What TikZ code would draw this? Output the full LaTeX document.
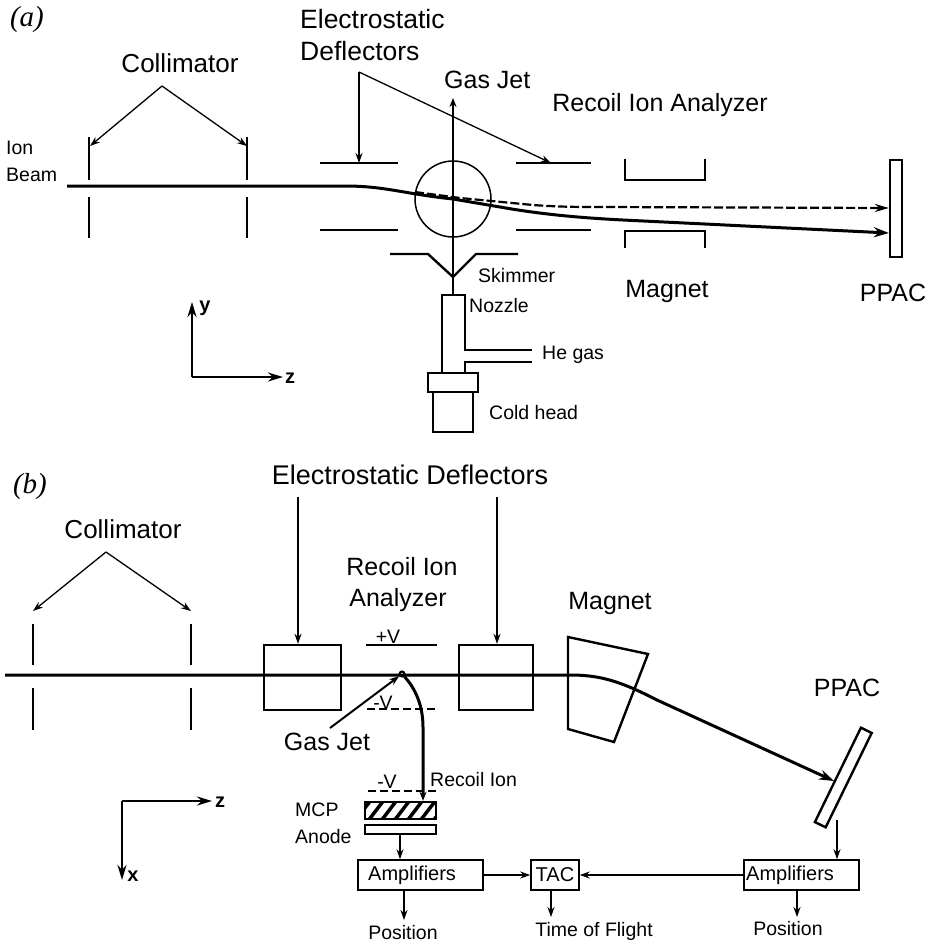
\documentclass[tikz,border=0pt]{standalone}
\usepackage{fontspec}
\setmainfont{Liberation Sans}
\newfontfamily\panelfont{Liberation Serif}
\usetikzlibrary{arrows.meta, positioning, calc}

\begin{document}
\begin{tikzpicture}[
    x=1pt, y=-1pt,
    biglabel/.style={inner sep=0pt, font=\fontsize{25}{30}\selectfont},
    widelabel/.style={inner sep=0pt, font=\fontsize{26}{30}\selectfont},
    smalllabel/.style={inner sep=0pt, font=\fontsize{19.5}{23}\selectfont},
    panel/.style={inner sep=0pt, font=\fontsize{29}{32}\panelfont\itshape},
    box/.style={rectangle, draw=black, inner sep=0pt},
    ampbox/.style={box, line width=1.6pt, minimum height=30pt, font=\fontsize{20}{24}\selectfont},
    deflbox/.style={box, line width=2.4pt, minimum height=65pt},
    plate/.style={line width=2.2pt},
    slit/.style={line width=2.6pt},
    arrow/.style={-{Stealth[length=10pt, width=7pt]}, line width=1.3pt},
    beamarrow/.style={-{Stealth[length=15pt, width=10pt]}, line width=3pt},
    axis/.style={-{Stealth[length=15pt, width=9pt]}, line width=2.4pt}
]
    \useasboundingbox (0,0) rectangle (925,943);

    \node[panel] (panela) at (27,20) {(a)};
    \node[widelabel] (colla) at (180,63) {Collimator};
    \node[smalllabel, anchor=west] (ion) at (6,148) {Ion};
    \node[smalllabel, anchor=west] (ionbeam) at (6,175) {Beam};
    \node[widelabel, font=\fontsize{26.5}{30}\selectfont, anchor=west] (defla) at (300,19) {Electrostatic};
    \node[widelabel, font=\fontsize{26.5}{30}\selectfont, anchor=west] (deflb) at (300,51) {Deflectors};
    \node[biglabel, anchor=west] (jeta) at (444,80) {Gas Jet};
    \node[biglabel] (riaa) at (660,105) {Recoil Ion Analyzer};
    \node[biglabel] (magneta) at (667,291) {Magnet};
    \node[biglabel] (ppaca) at (893,293) {PPAC};
    \node[smalllabel, anchor=west] (skimmer) at (478,276) {Skimmer};
    \node[smalllabel, anchor=west] (nozzle) at (469,306) {Nozzle};
    \node[smalllabel, anchor=west] (hegas) at (542,355) {He gas};
    \node[smalllabel, anchor=west] (cold) at (489,413) {Cold head};

    \coordinate (apexa) at (162,86);
    \coordinate (slitaa) at (90,146);
    \coordinate (slitab) at (247,146);
    \draw[arrow] (apexa) -- (slitaa);
    \draw[arrow] (apexa) -- (slitab);
    \draw[slit] (89,137) -- (89,180) (89,197) -- (89,238);
    \draw[slit] (247,137) -- (247,180) (247,197) -- (247,238);

    \coordinate (apexb) at (359,72);
    \draw[arrow] (apexb) -- (359,163);
    \draw[arrow] (apexb) -- (551,163);
    \draw[plate] (320,163) -- (398,163) (320,230) -- (398,230);
    \draw[plate] (516,163) -- (591,163) (516,230) -- (591,230);
    \draw[line width=1.5pt] (453,199) circle (38);

    \draw[plate] (625,159) -- (625,180) -- (705,180) -- (705,159);
    \draw[plate] (625,248) -- (625,231) -- (705,231) -- (705,248);
    \node[box, line width=2.2pt, minimum width=12pt, minimum height=97pt] (ppacabox) at (896,208.5) {};

    \coordinate (beamstart) at (67,186);
    \draw[beamarrow] (beamstart) -- (345,186) .. controls (385,186) and (405,194) .. (453,199)
        -- (500,207) .. controls (545,215) and (585,218) .. (623,220) -- (ppacabox.west |- 0,233);
    \draw[-{Stealth[length=14pt, width=8pt]}, line width=2.2pt, dashed, dash pattern=on 9pt off 3pt]
        (415,192) -- (460,198) -- (533,205) .. controls (560,207) and (580,207) .. (600,207) -- (ppacabox.west |- 0,208);

    \coordinate (jettop) at (453,98);
    \coordinate (nozzletop) at (453,295);
    \draw[-{Stealth[length=9pt, width=7pt]}, line width=2.4pt] (nozzletop) -- (jettop);
    \draw[line width=2.4pt] (390,254) -- (428,254) -- (453,277) -- (476,254) -- (518,254);
    \node[box, line width=2.4pt, minimum width=50pt, minimum height=19pt] (flange) at (453,382.5) {};
    \node[box, line width=2.4pt, minimum width=40pt, minimum height=40pt] (head) at (453,412) {};
    \draw[line width=2.4pt] (flange.north -| 442,0) -- (442,295) -- (465,295) -- (465,350) -- (532,350);
    \draw[line width=2.4pt] (532,362) -- (465,362) -- (flange.north -| 465,0);

    \coordinate (axisa) at (192,377);
    \draw[axis] (axisa) -- (192,302);
    \draw[axis] (axisa) -- (283,377);
    \node[smalllabel, font=\fontsize{20}{24}\bfseries] (axisay) at (205,308) {y};
    \node[smalllabel, font=\fontsize{20}{24}\bfseries] (axisaz) at (290,378) {z};

    \node[panel] (panelb) at (30,487) {(b)};
    \node[widelabel] (collb) at (123,529) {Collimator};
    \node[biglabel, font=\fontsize{27}{30}\selectfont] (deflc) at (410,475) {Electrostatic Deflectors};
    \node[biglabel] (riab) at (402,567) {Recoil Ion};
    \node[biglabel] (riac) at (398,600) {Analyzer};
    \node[biglabel] (magnetb) at (610,603) {Magnet};
    \node[biglabel] (ppacb) at (847,688) {PPAC};
    \node[biglabel] (jetb) at (327,742) {Gas Jet};
    \node[smalllabel, anchor=west] (recoil) at (430,780) {Recoil Ion};
    \node[smalllabel, anchor=west] (mcp) at (295,810) {MCP};
    \node[smalllabel, anchor=west] (anode) at (295,837) {Anode};
    \node[smalllabel] (vplus) at (388,637) {+V};
    \node[smalllabel] (vminusa) at (383,703) {-V};
    \node[smalllabel] (vminusb) at (387,782) {-V};

    \coordinate (apexc) at (106,552);
    \coordinate (slitba) at (33,611);
    \coordinate (slitbb) at (191,611);
    \draw[arrow] (apexc) -- (slitba);
    \draw[arrow] (apexc) -- (slitbb);
    \draw[slit] (33,624) -- (33,665) (33,688) -- (33,730);
    \draw[slit] (191,624) -- (191,665) (191,688) -- (191,730);

    \node[deflbox, minimum width=77pt] (deflleft) at (302.5,677.5) {};
    \node[deflbox, minimum width=74pt] (deflright) at (496,677.5) {};
    \draw[arrow] (298,497) -- (deflleft.north -| 298,0);
    \draw[arrow] (497,497) -- (deflright.north -| 497,0);

    \draw[plate] (366,645) -- (437,645);
    \draw[plate, dashed, dash pattern=on 8pt off 4pt] (367,709) -- (437,709);
    \draw[plate, dashed, dash pattern=on 8pt off 4pt] (368,791) -- (437,791);

    \node[box, line width=2pt, minimum width=5pt, minimum height=5pt, circle] (target) at (402,674) {};
    \draw[arrow, line width=2pt] (330,728) -- (target);

    \draw[box, line width=2.4pt] (568,637) -- (648,654) -- (614,742) -- (568,729) -- cycle;
    \node[box, line width=2.4pt, minimum width=105pt, minimum height=12pt, rotate=64] (ppacbbox) at (843.3,777.5) {};
    \coordinate (ppachit) at (834,781);
    \draw[beamarrow] (5,675) -- (570,675) .. controls (600,675) and (620,681) .. (657,700) -- (ppachit);

    \node[box, line width=2.4pt, minimum width=71pt, minimum height=17pt] (mcpbox) at (400.5,810.5) {};
    \begin{scope}
        \clip (365,802) rectangle (436,819);
        \foreach \hx in {355,368,...,433} {
            \draw[line width=3.5pt] (\hx,821) -- (\hx+16,800);
        }
    \end{scope}
    \node[box, line width=2pt, minimum width=71pt, minimum height=9pt] (anodebox) at (400.5,829.5) {};
    \draw[beamarrow, -{Stealth[length=9pt, width=7pt]}] (target) .. controls (415,688) and (423,705) .. (423,727) -- (mcpbox.north -| 423,0);

    \node[ampbox, minimum width=125pt] (ampleft) at (420.5,875) {};
    \node[smalllabel, anchor=west, font=\fontsize{20}{24}\selectfont] (ampltext) at (368,875) {Amplifiers};
    \node[ampbox, minimum width=48pt] (tac) at (555,875) {TAC};
    \node[ampbox, minimum width=115pt] (ampright) at (801.5,875) {};
    \node[smalllabel, anchor=west, font=\fontsize{20}{24}\selectfont] (amprtext) at (746,875) {Amplifiers};
    \node[smalllabel] (posleft) at (403,933) {Position};
    \node[smalllabel] (tof) at (594,931) {Time of Flight};
    \node[smalllabel] (posright) at (788,929) {Position};

    \draw[arrow] (anodebox.south -| 400,0) -- (ampleft.north -| 400,0);
    \draw[arrow] (ampleft.east) -- (tac.west);
    \draw[arrow] (ampright.west) -- (tac.east);
    \draw[arrow] (837,820) -- (ampright.north -| 837,0);
    \draw[arrow] (ampleft.south -| 404,0) -- (404,920);
    \draw[arrow] (tac.south -| 551,0) -- (551,917);
    \draw[arrow] (ampright.south -| 797,0) -- (797,917);

    \coordinate (axisb) at (122,801);
    \draw[axis] (axisb) -- (212,801);
    \draw[axis] (axisb) -- (122,880);
    \node[smalllabel, font=\fontsize{20}{24}\bfseries] (axisbz) at (220,802) {z};
    \node[smalllabel, font=\fontsize{20}{24}\bfseries] (axisbx) at (133,876) {x};
\end{tikzpicture}
\end{document}
